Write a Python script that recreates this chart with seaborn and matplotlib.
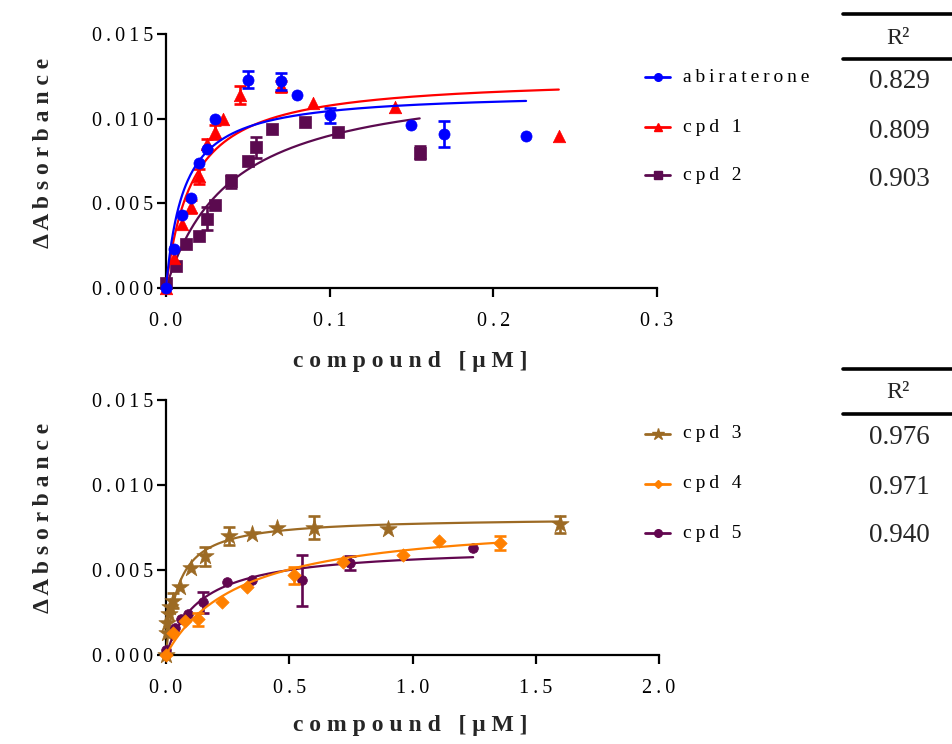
import numpy as np
import pandas as pd
import matplotlib
matplotlib.use("Agg")
import matplotlib.pyplot as plt
from matplotlib.lines import Line2D
import seaborn as sns

# ---------------- data ----------------
# upper panel: abiraterone, cpd 1, cpd 2
abi_x = [0.0, 0.005, 0.010, 0.015, 0.020, 0.025, 0.030, 0.050, 0.070, 0.080, 0.100, 0.150, 0.170, 0.220]
abi_y = [0.0, 0.0023, 0.0043, 0.0053, 0.0074, 0.0082, 0.0100, 0.0123, 0.0122, 0.0114, 0.0102, 0.0096, 0.0091, 0.0090]
abi_e = [0, 0, 0, 0, 0, 0, 0, 0.0005, 0.0005, 0, 0.00045, 0, 0.00075, 0]

c1_x = [0.0, 0.005, 0.010, 0.015, 0.020, 0.025, 0.030, 0.035, 0.045, 0.070, 0.090, 0.140, 0.240]
c1_y = [0.0, 0.0018, 0.0038, 0.0048, 0.0066, 0.0085, 0.0092, 0.0100, 0.0114, 0.0119, 0.0109, 0.0107, 0.0090]
c1_e = [0, 0, 0, 0.0004, 0.00045, 0.0003, 0.0004, 0, 0.00055, 0.0003, 0, 0, 0]

c2_x = [0.0, 0.006, 0.0125, 0.020, 0.025, 0.030, 0.040, 0.050, 0.055, 0.065, 0.085, 0.105, 0.155]
c2_y = [0.0003, 0.0013, 0.0026, 0.0031, 0.0041, 0.0049, 0.0063, 0.0075, 0.0083, 0.0094, 0.0098, 0.0092, 0.0080]
c2_e = [0, 0, 0, 0, 0.0007, 0, 0.0004, 0, 0.0006, 0, 0, 0, 0.0004]

# lower panel: cpd 3, cpd 4, cpd 5
c3_x = [0.0, 0.003, 0.006, 0.012, 0.018, 0.030, 0.057, 0.100, 0.160, 0.255, 0.350, 0.450, 0.600, 0.900, 1.600]
c3_y = [0.0, 0.0013, 0.0019, 0.0024, 0.0028, 0.0032, 0.0040, 0.0051, 0.0058, 0.0070, 0.0071, 0.0075, 0.0075, 0.0074, 0.0077]
c3_e = [0, 0, 0, 0, 0, 0.00045, 0, 0, 0.00055, 0.00055, 0, 0, 0.0007, 0, 0.0005]

c4_x = [0.0, 0.030, 0.077, 0.128, 0.226, 0.328, 0.520, 0.720, 0.962, 1.108, 1.355]
c4_y = [0.0, 0.0013, 0.0020, 0.0021, 0.0031, 0.0040, 0.0047, 0.0055, 0.0059, 0.0067, 0.0066]
c4_e = [0, 0, 0, 0.0004, 0, 0, 0.0005, 0, 0, 0, 0.0004]

c5_x = [0.0, 0.037, 0.060, 0.090, 0.150, 0.248, 0.348, 0.550, 0.748, 1.246]
c5_y = [0.0003, 0.0016, 0.0021, 0.0024, 0.0031, 0.0043, 0.0044, 0.0044, 0.0054, 0.0063]
c5_e = [0, 0, 0, 0, 0.0006, 0, 0, 0.0015, 0.0004, 0]

# one-site binding fits: (Bmax, Kd)
abi_fit = (0.0116, 0.011)
c1_fit = (0.0125, 0.016)
c2_fit = (0.0126, 0.040)
c3_fit = (0.0081, 0.050)
c4_fit = (0.0081, 0.305)
c5_fit = (0.0064, 0.140)

top_labels = ["abiraterone", "cpd 1", "cpd 2"]
bot_labels = ["cpd 3", "cpd 4", "cpd 5"]
top_r2 = ["0.829", "0.809", "0.903"]
bot_r2 = ["0.976", "0.971", "0.940"]

top_xticks = [0.0, 0.1, 0.2, 0.3]
top_xticklabels = ["0.0", "0.1", "0.2", "0.3"]
bot_xticks = [0.0, 0.5, 1.0, 1.5, 2.0]
bot_xticklabels = ["0.0", "0.5", "1.0", "1.5", "2.0"]
yticks = [0.0, 0.005, 0.010, 0.015]
yticklabels = ["0.000", "0.005", "0.010", "0.015"]

xlabel_word, xlabel_unit = "compound", "[μM]"
ylabel = "ΔAbsorbance"

# ---------------- styling ----------------
sns.set_theme(style="ticks")
SERIF = ["Liberation Serif", "DejaVu Serif"]
plt.rcParams["font.family"] = SERIF
plt.rcParams["axes.unicode_minus"] = False

THIN = "\u2009"


def tracked(s):
    """Letter-spaced version of a string using thin spaces."""
    return THIN.join(s)


def wide(s):
    """Widely spaced version of a string (bold axis titles)."""
    return " ".join(s)


W, H = 953, 744
fig = plt.figure(figsize=(W / 100, H / 100), dpi=100)


def fx(px):
    return px / W


def fy(py):
    return 1 - py / H


ax1 = fig.add_axes([fx(166), fy(288), (657 - 166) / W, (288 - 34) / H])
ax2 = fig.add_axes([fx(166), fy(655), (659 - 166) / W, (655 - 400) / H])

series_top = [
    ("cpd 2", c2_x, c2_y, c2_e, c2_fit, "#5B0A4F", "s", 8.0),
    ("cpd 1", c1_x, c1_y, c1_e, c1_fit, "#FF0000", "^", 9.0),
    ("abiraterone", abi_x, abi_y, abi_e, abi_fit, "#0000FF", "o", 8.0),
]
series_bot = [
    ("cpd 3", c3_x, c3_y, c3_e, c3_fit, "#9C6A24", "*", 13.0),
    ("cpd 5", c5_x, c5_y, c5_e, c5_fit, "#62064F", "o", 7.0),
    ("cpd 4", c4_x, c4_y, c4_e, c4_fit, "#FF8000", "D", 6.8),
]


def draw_series(ax, series):
    for k, (name, xs, ys, es, fit, col, mk, ms) in enumerate(series):
        z = 3 + k
        bmax, kd = fit
        xx = np.linspace(0, max(xs), 400)
        fit_df = pd.DataFrame({"x": xx, "y": bmax * xx / (kd + xx)})
        sns.lineplot(data=fit_df, x="x", y="y", ax=ax, color=col, linewidth=1.6,
                     zorder=z, clip_on=False)
        d = pd.DataFrame({"x": xs, "y": ys, "e": es})
        eb = d[d["e"] > 0]
        ax.errorbar(eb["x"], eb["y"], yerr=eb["e"], fmt="none", ecolor=col,
                    elinewidth=1.9, capsize=4.5, capthick=1.9, zorder=z + 0.1)
        sns.scatterplot(data=d, x="x", y="y", ax=ax, marker=mk, s=ms ** 2,
                        color=col, edgecolor=col, linewidth=0.5, zorder=z + 0.2,
                        clip_on=False, legend=False)


draw_series(ax1, series_top)
draw_series(ax2, series_bot)

for ax, xt, xtl, xmax in [(ax1, top_xticks, top_xticklabels, 0.3),
                          (ax2, bot_xticks, bot_xticklabels, 2.0)]:
    ax.set_xlim(0, xmax)
    ax.set_ylim(0, 0.015)
    ax.set_xticks(xt)
    ax.set_xticklabels([tracked(t) for t in xtl])
    ax.set_yticks(yticks)
    ax.set_yticklabels([tracked(t) for t in yticklabels])
    ax.set_xlabel("")
    ax.set_ylabel("")
    ax.set_facecolor("white")
    for side in ["top", "right"]:
        ax.spines[side].set_visible(False)
    for side in ["left", "bottom"]:
        ax.spines[side].set_linewidth(1.6)
        ax.spines[side].set_color("black")
    ax.tick_params(axis="both", direction="out", length=6.5, width=1.6,
                   color="black", labelsize=14.5, labelcolor="black")
    ax.tick_params(axis="x", pad=11)
    ax.tick_params(axis="y", pad=3)
    for lab in ax.get_xticklabels() + ax.get_yticklabels():
        lab.set_family(SERIF)

# axis titles
for (cx, cy) in [(410, 361), (410, 725)]:
    fig.text(fx(cx), fy(cy), wide(xlabel_word) + "   " + wide(xlabel_unit),
             ha="center", va="center", fontsize=17, fontweight="bold",
             family=SERIF)
for (cx, cy) in [(44, 153), (44, 518)]:
    fig.text(fx(cx), fy(cy), wide(ylabel), rotation=90, ha="center",
             va="center", fontsize=17, fontweight="bold", family=SERIF)


# legends
def draw_legend(rows_y, labels, specs):
    for py, lab, (col, mk, ms) in zip(rows_y, labels, specs):
        fig.add_artist(Line2D([fx(645), fx(670)], [fy(py), fy(py)],
                              color=col, linewidth=2, transform=fig.transFigure))
        fig.add_artist(Line2D([fx(657.5)], [fy(py)], color=col, marker=mk,
                              markersize=ms, linestyle="none",
                              transform=fig.transFigure))
        fig.text(fx(683), fy(py), tracked(lab), ha="left", va="center",
                 fontsize=14, family=SERIF, color="black")


draw_legend([77, 127, 175], top_labels,
            [("#0000FF", "o", 5.5), ("#FF0000", "^", 6), ("#5B0A4F", "s", 5.5)])
draw_legend([434, 484, 533], bot_labels,
            [("#9C6A24", "*", 9), ("#FF8000", "D", 4.5), ("#62064F", "o", 5.5)])


# R² tables
def draw_table(top_py, header_py, rows_py, values):
    for py in [top_py, top_py + 45]:
        fig.add_artist(Line2D([fx(843), 1.0], [fy(py), fy(py)], color="black",
                              linewidth=2.6, transform=fig.transFigure))
    fig.text(fx(898), fy(header_py), "R²", ha="center", va="center",
             fontsize=17.5, family=SERIF)
    for py, v in zip(rows_py, values):
        fig.text(fx(899), fy(py), v, ha="center", va="center", fontsize=19.5,
                 family=SERIF)


draw_table(14, 38, [82, 131, 179], top_r2)
draw_table(369, 392, [437, 487, 536], bot_r2)

fig.savefig("out.png", dpi=100, facecolor="white")
